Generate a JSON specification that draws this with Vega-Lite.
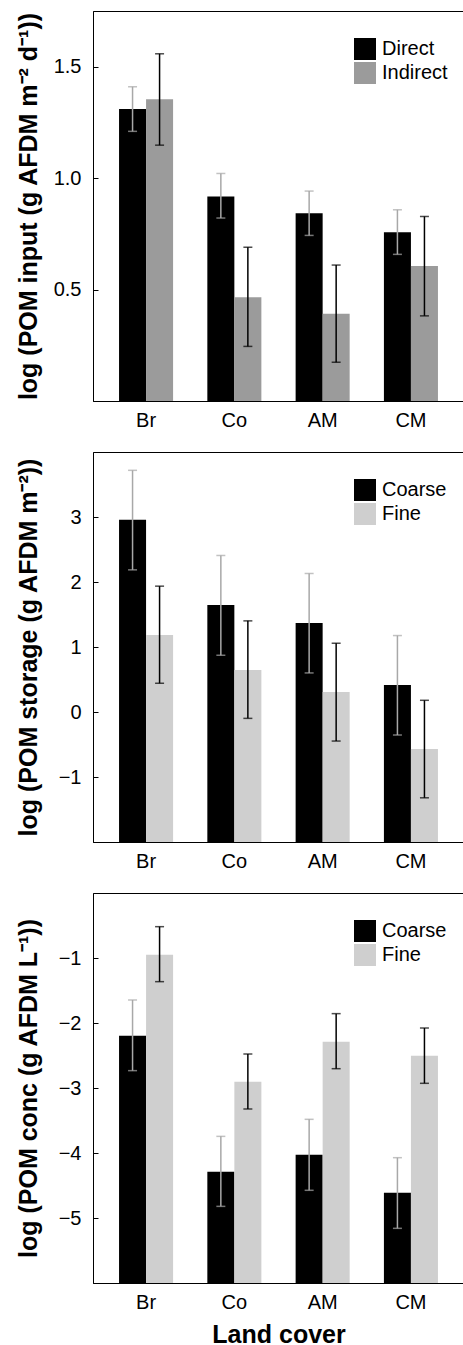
{
  "$schema": "https://vega.github.io/schema/vega-lite/v6.json",
  "padding": {"left": 15, "top": 10, "right": 0, "bottom": 0},
  "spacing": 20,
  "config": {
    "font": "Liberation Sans",
    "view": {"stroke": "black", "strokeWidth": 1},
    "axis": {"domainColor": "black", "tickColor": "black", "labelColor": "black", "titleColor": "black", "grid": false, "labelFont": "Liberation Sans", "labelFontSize": 20, "titleFont": "Liberation Sans", "titleFontSize": 25, "titleFontWeight": "bold"},
    "axisY": {"tickSize": -5, "labelPadding": 17, "titleX": -52, "titleBaseline": "bottom"},
    "axisX": {"ticks": false, "labelAngle": 0, "labelPadding": 9},
    "legend": {"labelFont": "Liberation Sans", "labelFontSize": 20, "labelColor": "black"}
  },
  "datasets": {
    "input": [
      {"lc": "Br", "g": "Direct", "mean": 1.31, "lo": 1.21, "hi": 1.41},
      {"lc": "Br", "g": "Indirect", "mean": 1.354, "lo": 1.148, "hi": 1.558},
      {"lc": "Co", "g": "Direct", "mean": 0.918, "lo": 0.821, "hi": 1.021},
      {"lc": "Co", "g": "Indirect", "mean": 0.466, "lo": 0.245, "hi": 0.69},
      {"lc": "AM", "g": "Direct", "mean": 0.842, "lo": 0.743, "hi": 0.942},
      {"lc": "AM", "g": "Indirect", "mean": 0.391, "lo": 0.174, "hi": 0.61},
      {"lc": "CM", "g": "Direct", "mean": 0.757, "lo": 0.658, "hi": 0.858},
      {"lc": "CM", "g": "Indirect", "mean": 0.606, "lo": 0.382, "hi": 0.828}
    ],
    "storage": [
      {"lc": "Br", "g": "Coarse", "mean": 2.958, "lo": 2.187, "hi": 3.718},
      {"lc": "Br", "g": "Fine", "mean": 1.186, "lo": 0.442, "hi": 1.936},
      {"lc": "Co", "g": "Coarse", "mean": 1.648, "lo": 0.873, "hi": 2.408},
      {"lc": "Co", "g": "Fine", "mean": 0.647, "lo": -0.098, "hi": 1.402},
      {"lc": "AM", "g": "Coarse", "mean": 1.371, "lo": 0.601, "hi": 2.131},
      {"lc": "AM", "g": "Fine", "mean": 0.308, "lo": -0.447, "hi": 1.058},
      {"lc": "CM", "g": "Coarse", "mean": 0.416, "lo": -0.354, "hi": 1.176},
      {"lc": "CM", "g": "Fine", "mean": -0.57, "lo": -1.32, "hi": 0.18}
    ],
    "conc": [
      {"lc": "Br", "g": "Coarse", "mean": -2.195, "lo": -2.733, "hi": -1.646},
      {"lc": "Br", "g": "Fine", "mean": -0.949, "lo": -1.364, "hi": -0.518},
      {"lc": "Co", "g": "Coarse", "mean": -4.287, "lo": -4.821, "hi": -3.744},
      {"lc": "Co", "g": "Fine", "mean": -2.903, "lo": -3.323, "hi": -2.477},
      {"lc": "AM", "g": "Coarse", "mean": -4.026, "lo": -4.574, "hi": -3.482},
      {"lc": "AM", "g": "Fine", "mean": -2.287, "lo": -2.703, "hi": -1.856},
      {"lc": "CM", "g": "Coarse", "mean": -4.61, "lo": -5.159, "hi": -4.072},
      {"lc": "CM", "g": "Fine", "mean": -2.503, "lo": -2.928, "hi": -2.077}
    ]
  },
  "resolve": {"scale": {"color": "independent", "y": "independent", "x": "independent", "xOffset": "independent"}, "legend": {"color": "independent"}, "axis": {"x": "independent", "y": "independent"}},
  "vconcat": [
    {
      "width": 371, "height": 390,
      "data": {"name": "input"},
      "encoding": {
        "x": {"field": "lc", "type": "nominal", "scale": {"domain": ["Br", "Co", "AM", "CM"], "paddingInner": 0.388, "paddingOuter": 0.295}, "axis": {"title": null}},
        "xOffset": {"field": "g", "type": "nominal", "scale": {"domain": ["Direct", "Indirect"], "paddingInner": 0, "paddingOuter": 0}}
      },
      "layer": [
        {"mark": {"type": "bar"}, "encoding": {
          "y": {"field": "mean", "type": "quantitative", "scale": {"domain": [0, 1.75], "nice": false, "zero": false}, "axis": {"title": "log (POM input (g AFDM m⁻² d⁻¹))", "values": [0.5, 1, 1.5], "format": ".1f"}},
          "y2": {"datum": 0},
          "color": {"field": "g", "type": "nominal", "scale": {"domain": ["Direct", "Indirect"], "range": ["black", "#9b9b9b"]}, "legend": {"title": null, "orient": "none", "legendX": 261, "legendY": 27, "symbolType": "square", "symbolSize": 484, "symbolStrokeWidth": 0, "symbolOpacity": 1, "padding": 0, "labelOffset": 6, "rowPadding": 2}}
        }},
        {"mark": {"type": "rule", "strokeWidth": 1.5}, "encoding": {
          "y": {"field": "lo", "type": "quantitative"}, "y2": {"field": "hi"},
          "color": {"condition": {"test": "datum.g === 'Direct'", "value": "#a8a8a8"}, "value": "black"}
        }},
        {"mark": {"type": "tick", "size": 9, "thickness": 1.5}, "encoding": {
          "y": {"field": "lo", "type": "quantitative"},
          "color": {"condition": {"test": "datum.g === 'Direct'", "value": "#a8a8a8"}, "value": "black"}
        }},
        {"mark": {"type": "tick", "size": 9, "thickness": 1.5}, "encoding": {
          "y": {"field": "hi", "type": "quantitative"},
          "color": {"condition": {"test": "datum.g === 'Direct'", "value": "#a8a8a8"}, "value": "black"}
        }}
      ]
    },
    {
      "width": 371, "height": 390,
      "data": {"name": "storage"},
      "encoding": {
        "x": {"field": "lc", "type": "nominal", "scale": {"domain": ["Br", "Co", "AM", "CM"], "paddingInner": 0.388, "paddingOuter": 0.295}, "axis": {"title": null}},
        "xOffset": {"field": "g", "type": "nominal", "scale": {"domain": ["Coarse", "Fine"], "paddingInner": 0, "paddingOuter": 0}}
      },
      "layer": [
        {"mark": {"type": "bar"}, "encoding": {
          "y": {"field": "mean", "type": "quantitative", "scale": {"domain": [-2, 4], "nice": false, "zero": false}, "axis": {"title": "log (POM storage (g AFDM m⁻²))", "values": [-1, 0, 1, 2, 3], "format": "d"}},
          "y2": {"datum": -2},
          "color": {"field": "g", "type": "nominal", "scale": {"domain": ["Coarse", "Fine"], "range": ["black", "#cfcfcf"]}, "legend": {"title": null, "orient": "none", "legendX": 261, "legendY": 27, "symbolType": "square", "symbolSize": 484, "symbolStrokeWidth": 0, "symbolOpacity": 1, "padding": 0, "labelOffset": 6, "rowPadding": 2}}
        }},
        {"mark": {"type": "rule", "strokeWidth": 1.5}, "encoding": {
          "y": {"field": "lo", "type": "quantitative"}, "y2": {"field": "hi"},
          "color": {"condition": {"test": "datum.g === 'Coarse'", "value": "#a8a8a8"}, "value": "black"}
        }},
        {"mark": {"type": "tick", "size": 9, "thickness": 1.5}, "encoding": {
          "y": {"field": "lo", "type": "quantitative"},
          "color": {"condition": {"test": "datum.g === 'Coarse'", "value": "#a8a8a8"}, "value": "black"}
        }},
        {"mark": {"type": "tick", "size": 9, "thickness": 1.5}, "encoding": {
          "y": {"field": "hi", "type": "quantitative"},
          "color": {"condition": {"test": "datum.g === 'Coarse'", "value": "#a8a8a8"}, "value": "black"}
        }}
      ]
    },
    {
      "width": 371, "height": 390,
      "data": {"name": "conc"},
      "encoding": {
        "x": {"field": "lc", "type": "nominal", "scale": {"domain": ["Br", "Co", "AM", "CM"], "paddingInner": 0.388, "paddingOuter": 0.295}, "axis": {"title": "Land cover", "titlePadding": 10}},
        "xOffset": {"field": "g", "type": "nominal", "scale": {"domain": ["Coarse", "Fine"], "paddingInner": 0, "paddingOuter": 0}}
      },
      "layer": [
        {"mark": {"type": "bar"}, "encoding": {
          "y": {"field": "mean", "type": "quantitative", "scale": {"domain": [-6, 0], "nice": false, "zero": false}, "axis": {"title": "log (POM conc (g AFDM L⁻¹))", "values": [-5, -4, -3, -2, -1], "format": "d"}},
          "y2": {"datum": -6},
          "color": {"field": "g", "type": "nominal", "scale": {"domain": ["Coarse", "Fine"], "range": ["black", "#cfcfcf"]}, "legend": {"title": null, "orient": "none", "legendX": 261, "legendY": 27, "symbolType": "square", "symbolSize": 484, "symbolStrokeWidth": 0, "symbolOpacity": 1, "padding": 0, "labelOffset": 6, "rowPadding": 2}}
        }},
        {"mark": {"type": "rule", "strokeWidth": 1.5}, "encoding": {
          "y": {"field": "lo", "type": "quantitative"}, "y2": {"field": "hi"},
          "color": {"condition": {"test": "datum.g === 'Coarse'", "value": "#a8a8a8"}, "value": "black"}
        }},
        {"mark": {"type": "tick", "size": 9, "thickness": 1.5}, "encoding": {
          "y": {"field": "lo", "type": "quantitative"},
          "color": {"condition": {"test": "datum.g === 'Coarse'", "value": "#a8a8a8"}, "value": "black"}
        }},
        {"mark": {"type": "tick", "size": 9, "thickness": 1.5}, "encoding": {
          "y": {"field": "hi", "type": "quantitative"},
          "color": {"condition": {"test": "datum.g === 'Coarse'", "value": "#a8a8a8"}, "value": "black"}
        }}
      ]
    }
  ]
}
